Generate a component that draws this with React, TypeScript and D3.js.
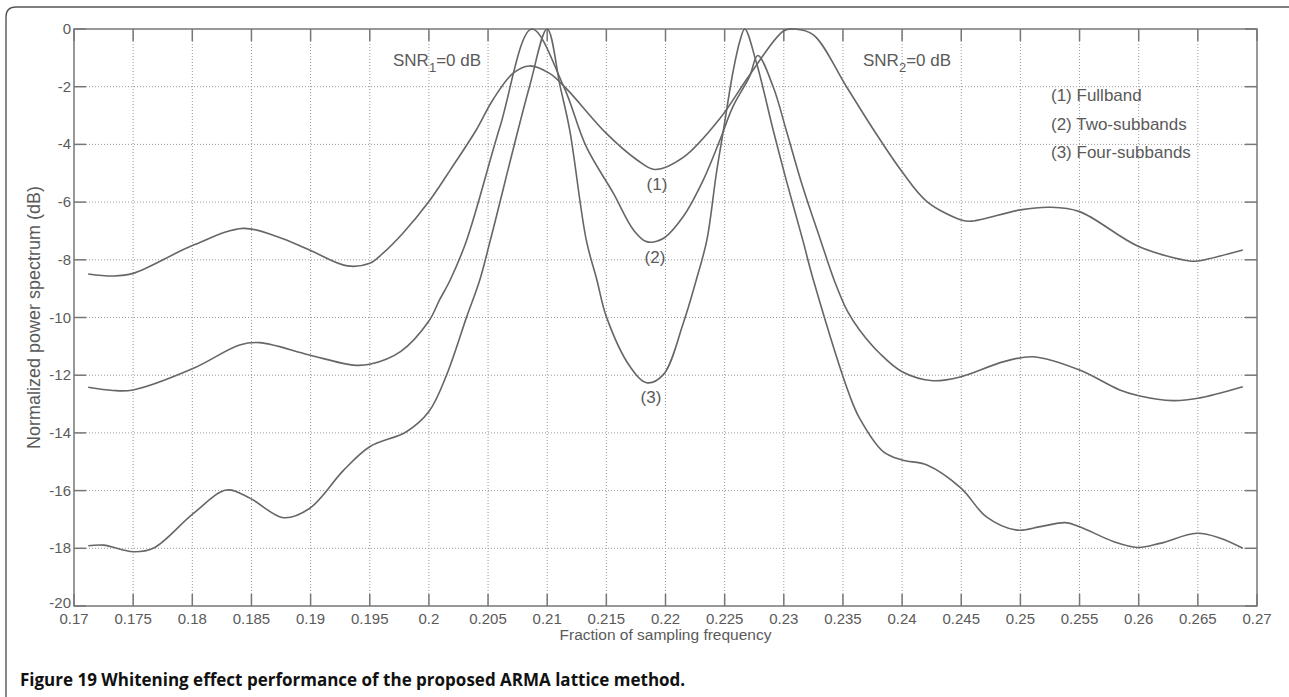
import React from "react";
import * as d3 from "d3";

// ---- data ----
const xTicks = [0.17, 0.175, 0.18, 0.185, 0.19, 0.195, 0.2, 0.205, 0.21, 0.215, 0.22, 0.225, 0.23, 0.235, 0.24, 0.245, 0.25, 0.255, 0.26, 0.265, 0.27];
const yTicks = [0, -2, -4, -6, -8, -10, -12, -14, -16, -18, -20];

const fullband: [number, number][] = [
  [0.1712, -8.49], [0.1733, -8.56], [0.175, -8.47], [0.1801, -7.49], [0.1843, -6.91],
  [0.1872, -7.2], [0.1899, -7.66], [0.1931, -8.21], [0.195, -8.12], [0.1961, -7.78],
  [0.1978, -7.08], [0.2, -5.98], [0.2018, -4.89], [0.204, -3.5], [0.2054, -2.46],
  [0.2071, -1.54], [0.2085, -1.28], [0.2102, -1.54], [0.2116, -2.06], [0.215, -3.62],
  [0.2176, -4.54], [0.2191, -4.87], [0.2215, -4.45], [0.2246, -3.1], [0.2271, -1.6],
  [0.23, -0.06], [0.2309, 0], [0.2325, -0.2], [0.2353, -2.0], [0.2376, -3.5],
  [0.24, -4.95], [0.2421, -5.98], [0.245, -6.62], [0.2459, -6.66], [0.25, -6.27],
  [0.2525, -6.18], [0.255, -6.33], [0.26, -7.54], [0.2643, -8.04], [0.265, -8.04],
  [0.2688, -7.66],
];

const twoSubbands: [number, number][] = [
  [0.1712, -12.42], [0.1733, -12.53], [0.175, -12.51], [0.1801, -11.76], [0.184, -10.95],
  [0.1857, -10.87], [0.1899, -11.3], [0.1936, -11.65], [0.195, -11.62], [0.1976, -11.18],
  [0.2, -10.12], [0.2009, -9.39], [0.2018, -8.7], [0.2032, -7.31], [0.206, -3.4],
  [0.2087, 0], [0.2114, -2.0], [0.2133, -4.08], [0.2156, -5.7], [0.2173, -6.97],
  [0.2184, -7.37], [0.2198, -7.26], [0.2215, -6.5], [0.2232, -5.23], [0.2246, -3.85],
  [0.2257, -2.69], [0.2271, -1.65], [0.2278, -0.92], [0.2291, -2.0], [0.2302, -3.5],
  [0.2316, -5.47], [0.2331, -7.31], [0.2343, -8.75], [0.2354, -9.8], [0.2364, -10.43],
  [0.2381, -11.24], [0.24, -11.88], [0.2426, -12.19], [0.245, -12.05], [0.2486, -11.53],
  [0.2511, -11.36], [0.255, -11.82], [0.2584, -12.51], [0.26, -12.71], [0.2629, -12.88],
  [0.265, -12.8], [0.2688, -12.4],
];

const fourSubbands: [number, number][] = [
  [0.1712, -17.91], [0.1725, -17.89], [0.175, -18.12], [0.1767, -18.0], [0.1801, -16.79],
  [0.1829, -15.98], [0.1849, -16.27], [0.1877, -16.94], [0.1899, -16.62], [0.1928, -15.29],
  [0.195, -14.48], [0.1981, -13.96], [0.2, -13.26], [0.2015, -11.99], [0.2032, -9.97],
  [0.2043, -8.7], [0.2052, -7.31], [0.2085, -2.0], [0.21, 0], [0.2111, -2.0],
  [0.2119, -3.5], [0.2133, -7.31], [0.2142, -8.7], [0.215, -9.97], [0.217, -11.7],
  [0.2184, -12.26], [0.2198, -11.99], [0.2215, -10.2], [0.2226, -8.7], [0.2235, -7.31],
  [0.2243, -5.0], [0.2249, -3.5], [0.2257, -1.5], [0.2263, -0.4], [0.2267, 0],
  [0.2277, -1.19], [0.2291, -3.5], [0.2302, -5.23], [0.2316, -7.31], [0.2325, -8.7],
  [0.2356, -12.74], [0.2364, -13.49], [0.2384, -14.65], [0.24, -14.94], [0.2421, -15.11],
  [0.245, -15.92], [0.2471, -16.9], [0.2497, -17.37], [0.2517, -17.25], [0.2538, -17.11],
  [0.255, -17.25], [0.2579, -17.77], [0.2599, -17.97], [0.2618, -17.83], [0.2649, -17.48],
  [0.2669, -17.65], [0.2688, -18.0],
];

const series = [fullband, twoSubbands, fourSubbands];
const legendItems = ["(1) Fullband", "(2) Two-subbands", "(3) Four-subbands"];

const W = 1289;
const H = 697;
const left = 74, right = 1257, top = 29, bottom = 606;

export default function App() {
  const x = d3.scaleLinear().domain([0.17, 0.27]).range([left, right]);
  const y = d3.scaleLinear().domain([-20, 0]).range([bottom, top]);
  const line = d3
    .line<[number, number]>()
    .x((d) => x(d[0]))
    .y((d) => y(d[1]))
    .curve(d3.curveCatmullRom.alpha(0.5));

  const txt = "#5a5a5a";
  const axisCol = "#777";
  const font = "'Liberation Sans', Arial, sans-serif";
  const fmt = (v: number) => String(parseFloat(v.toFixed(3)));

  return (
    <svg
      width={W}
      height={H}
      style={{ position: "absolute", left: 0, top: 0, background: "#fff" }}
      fontFamily={font}
    >
      <defs>
        <clipPath id="plotclip">
          <rect x={left} y={top - 1} width={right - left} height={bottom - top + 1} />
        </clipPath>
      </defs>
      {/* outer frame */}
      <path d={`M6,${H} V17 Q6,7 16,7 H${W}`} fill="none" stroke="#555" strokeWidth={1.4} />

      {/* grid */}
      {xTicks.slice(1, -1).map((t) => (
        <line key={"gx" + t} x1={x(t)} x2={x(t)} y1={top} y2={bottom} stroke="#999" strokeWidth={1} strokeDasharray="1,2" />
      ))}
      {yTicks.slice(1, -1).map((t) => (
        <line key={"gy" + t} x1={left} x2={right} y1={y(t)} y2={y(t)} stroke="#999" strokeWidth={1} strokeDasharray="1,2" />
      ))}

      {/* ticks */}
      {xTicks.map((t) => (
        <g key={"tx" + t}>
          <line x1={x(t)} x2={x(t)} y1={bottom} y2={bottom - 12} stroke={axisCol} strokeWidth={1.5} />
          <line x1={x(t)} x2={x(t)} y1={top} y2={top + 12} stroke={axisCol} strokeWidth={1.5} />
          <text x={x(t)} y={bottom + 18} textAnchor="middle" fontSize={15} fill={txt}>
            {fmt(t)}
          </text>
        </g>
      ))}
      {yTicks.map((t) => (
        <g key={"ty" + t}>
          <line x1={left} x2={left + 12} y1={y(t)} y2={y(t)} stroke={axisCol} strokeWidth={1.5} />
          <line x1={right} x2={right - 12} y1={y(t)} y2={y(t)} stroke={axisCol} strokeWidth={1.5} />
          <text x={left - 3} y={y(t) + (t === -20 ? 2 : 5)} textAnchor="end" fontSize={15} fill={txt}>
            {t}
          </text>
        </g>
      ))}

      {/* frame */}
      <rect x={left} y={top} width={right - left} height={bottom - top} fill="none" stroke={axisCol} strokeWidth={1.5} />

      {/* curves */}
      <g clipPath="url(#plotclip)">
        {series.map((s, i) => (
          <path key={i} d={line(s) || ""} fill="none" stroke="#666" strokeWidth={1.6} />
        ))}
      </g>

      {/* annotations */}
      <text x={393} y={66} fontSize={17} fill={txt}>
        SNR<tspan fontSize={13} dy={6}>1</tspan>
        <tspan dy={-6}>=0 dB</tspan>
      </text>
      <text x={863} y={66} fontSize={17} fill={txt}>
        SNR<tspan fontSize={13} dy={6}>2</tspan>
        <tspan dy={-6}>=0 dB</tspan>
      </text>
      {legendItems.map((s, i) => (
        <text key={s} x={1051} y={101 + i * 28.5} fontSize={17} fill={txt}>
          {s}
        </text>
      ))}
      <text x={657} y={190} fontSize={17} fill={txt} textAnchor="middle">(1)</text>
      <text x={655} y={263} fontSize={17} fill={txt} textAnchor="middle">(2)</text>
      <text x={651} y={403} fontSize={17} fill={txt} textAnchor="middle">(3)</text>

      {/* axis labels */}
      <text x={(left + right) / 2} y={640} fontSize={15.5} fill={txt} textAnchor="middle">
        Fraction of sampling frequency
      </text>
      <text
        transform={`translate(40, ${(top + bottom) / 2}) rotate(-90)`}
        fontSize={18}
        fill={txt}
        textAnchor="middle"
      >
        Normalized power spectrum (dB)
      </text>

      {/* caption */}
      <text x={20} y={686} fontSize={17} fontWeight="bold" fill="#111" fontFamily="'Open Sans', 'Noto Sans', sans-serif">
        Figure 19 Whitening effect performance of the proposed ARMA lattice method.
      </text>
    </svg>
  );
}
